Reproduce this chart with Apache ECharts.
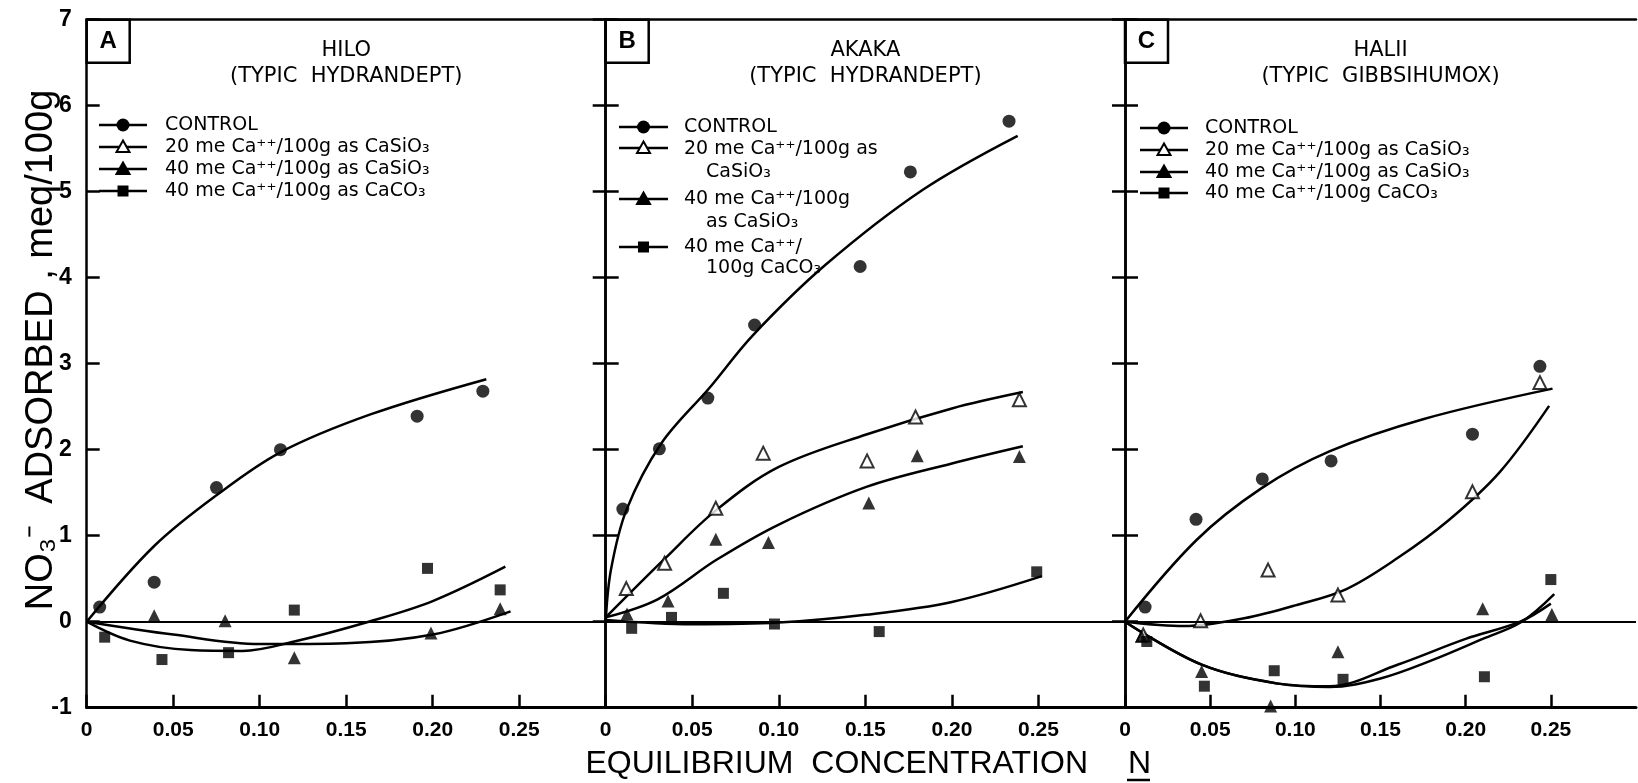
<!DOCTYPE html>
<html><head><meta charset="utf-8">
<script src="https://cdn.jsdelivr.net/npm/echarts@6/dist/echarts.min.js"></script>
<style>html,body{margin:0;padding:0;background:#fff}#c{width:1638px;height:783px}</style>
</head><body><div id="c"></div>
<script>
// ---------- data ----------
const xTickValues = [0, 0.05, 0.10, 0.15, 0.20, 0.25];
const yTickValues = [-1, 0, 1, 2, 3, 4, 5, 6, 7];
const panelLetters = ['A', 'B', 'C'];
const panelNames = ['HILO', 'AKAKA', 'HALII'];
const panelSubtitles = ['(TYPIC  HYDRANDEPT)', '(TYPIC  HYDRANDEPT)', '(TYPIC  GIBBSIHUMOX)'];
const legendLabelsA = [['CONTROL'], ['20 me Ca⁺⁺/100g as CaSiO₃'], ['40 me Ca⁺⁺/100g as CaSiO₃'], ['40 me Ca⁺⁺/100g as CaCO₃']];
const legendLabelsB = [['CONTROL'], ['20 me Ca⁺⁺/100g as', 'CaSiO₃'], ['40 me Ca⁺⁺/100g', 'as CaSiO₃'], ['40 me Ca⁺⁺/', '100g CaCO₃']];
const legendLabelsC = [['CONTROL'], ['20 me Ca⁺⁺/100g as CaSiO₃'], ['40 me Ca⁺⁺/100g as CaSiO₃'], ['40 me Ca⁺⁺/100g CaCO₃']];
const xTitle = 'EQUILIBRIUM  CONCENTRATION';
const xTitleUnit = 'N';
const yTitle = 'NO₃⁻  ADSORBED , meq/100g';

// Panel A (HILO)
const aControlPts = [[0.0075,0.17],[0.039,0.46],[0.075,1.56],[0.112,2.0],[0.191,2.39],[0.229,2.68]];
const aControlFit = [[0,0],[0.039,0.88],[0.075,1.47],[0.112,1.97],[0.164,2.41],[0.231,2.82]];
const aCaSi40Pts = [[0.039,0.07],[0.08,0.01],[0.12,-0.42],[0.199,-0.13],[0.239,0.15]];
const aCaSi40Fit = [[0,0],[0.05,-0.15],[0.1,-0.26],[0.15,-0.25],[0.2,-0.15],[0.245,0.12]];
const aCaCO3Pts = [[0.0104,-0.18],[0.0435,-0.44],[0.082,-0.36],[0.12,0.135],[0.197,0.62],[0.239,0.37]];
const aCaCO3Fit = [[0,0],[0.025,-0.22],[0.06,-0.33],[0.09,-0.34],[0.12,-0.23],[0.163,0],[0.2,0.24],[0.242,0.64]];

// Panel B (AKAKA)
const bControlPts = [[0.0099,1.31],[0.031,2.01],[0.059,2.6],[0.086,3.45],[0.147,4.13],[0.176,5.23],[0.233,5.82]];
const bControlFit = [[0,0],[0.003,0.6],[0.012,1.3],[0.032,2.07],[0.06,2.72],[0.085,3.33],[0.127,4.15],[0.183,5.02],[0.238,5.65]];
const bCaSi20Pts = [[0.0119,0.385],[0.034,0.68],[0.0636,1.32],[0.091,1.96],[0.151,1.87],[0.179,2.38],[0.239,2.58]];
const bCaSi20Fit = [[0,0.05],[0.034,0.73],[0.064,1.3],[0.1,1.8],[0.151,2.18],[0.2,2.48],[0.241,2.67]];
const bCaSi40Pts = [[0.0123,0.09],[0.036,0.24],[0.0636,0.96],[0.094,0.92],[0.152,1.38],[0.18,1.93],[0.239,1.92]];
const bCaSi40Fit = [[0,0.05],[0.03,0.26],[0.064,0.72],[0.1,1.13],[0.151,1.57],[0.2,1.84],[0.241,2.04]];
const bCaCO3Pts = [[0.015,-0.077],[0.038,0.05],[0.068,0.33],[0.0975,-0.027],[0.158,-0.115],[0.249,0.58]];
const bCaCO3Fit = [[0,0.02],[0.05,-0.03],[0.1,-0.01],[0.15,0.08],[0.2,0.23],[0.252,0.53]];

// Panel C (HALII)
const cControlPts = [[0.0118,0.17],[0.0417,1.19],[0.0806,1.66],[0.121,1.87],[0.204,2.18],[0.2436,2.97]];
const cControlFit = [[0,0],[0.042,0.95],[0.08,1.55],[0.12,1.98],[0.176,2.36],[0.251,2.71]];
const cCaSi20Pts = [[0.0107,-0.155],[0.0444,0.01],[0.084,0.6],[0.125,0.31],[0.204,1.51],[0.2436,2.78]];
const cCaSi20Fit = [[0,0],[0.035,-0.05],[0.07,0.04],[0.1,0.19],[0.13,0.38],[0.16,0.74],[0.19,1.18],[0.22,1.74],[0.249,2.51]];
const cCaSi40Pts = [[0.0096,-0.17],[0.045,-0.58],[0.0855,-0.98],[0.125,-0.35],[0.21,0.15],[0.2506,0.085]];
const cCaSi40Fit = [[0,0],[0.045,-0.5],[0.09,-0.72],[0.12,-0.75],[0.16,-0.5],[0.2,-0.2],[0.232,0],[0.25,0.21]];
const cCaCO3Pts = [[0.0128,-0.23],[0.0466,-0.75],[0.0876,-0.57],[0.128,-0.67],[0.211,-0.64],[0.25,0.49]];
const cCaCO3Fit = [[0,0],[0.045,-0.5],[0.09,-0.72],[0.12,-0.76],[0.15,-0.66],[0.18,-0.45],[0.21,-0.2],[0.233,0],[0.252,0.32]];

// ---------- layout ----------
const GRID_TOP = 19.7, GRID_H = 688;
const gridBoxes = [{left: 86.7, width: 519}, {left: 605.7, width: 519.3}, {left: 1125, width: 511}];
const legendLayouts = [
  {lx0: 99, lx1: 147, tx: 165, indent: 0, symY: [125, 147, 169, 191], textY: [[125], [147], [169], [191]], labels: legendLabelsA},
  {lx0: 619, lx1: 668, tx: 684, indent: 22, symY: [127, 148, 199, 247], textY: [[127], [149, 172], [199, 222], [247, 268]], labels: legendLabelsB},
  {lx0: 1140, lx1: 1188, tx: 1205, indent: 0, symY: [128, 150, 172, 193], textY: [[128], [150], [172], [193]], labels: legendLabelsC}
];
const kinds = ['control', 'si20', 'si40', 'co3'];

const panelSeries = [
  [{k: 'control', pts: aControlPts, fit: aControlFit}, {k: 'si40', pts: aCaSi40Pts, fit: aCaSi40Fit}, {k: 'co3', pts: aCaCO3Pts, fit: aCaCO3Fit}],
  [{k: 'control', pts: bControlPts, fit: bControlFit}, {k: 'si20', pts: bCaSi20Pts, fit: bCaSi20Fit}, {k: 'si40', pts: bCaSi40Pts, fit: bCaSi40Fit}, {k: 'co3', pts: bCaCO3Pts, fit: bCaCO3Fit}],
  [{k: 'control', pts: cControlPts, fit: cControlFit}, {k: 'si20', pts: cCaSi20Pts, fit: cCaSi20Fit}, {k: 'si40', pts: cCaSi40Pts, fit: cCaSi40Fit}, {k: 'co3', pts: cCaCO3Pts, fit: cCaCO3Fit}]
];
const symbolOf = {control: 'circle', si20: 'triangle', si40: 'triangle', co3: 'rect'};
const sizeOf = {control: 13, si20: 13, si40: 13, co3: 11};
function itemStyleOf(k) {
  return k === 'si20' ? {color: '#fff', borderColor: '#000', borderWidth: 2} : {color: '#000'};
}
const FONT = 'Liberation Sans';
const LFONT = 'DejaVu Sans';

const grids = [], xAxes = [], yAxes = [], series = [], graphics = [];
gridBoxes.forEach((g, i) => {
  grids.push({left: g.left, width: g.width, top: GRID_TOP, height: GRID_H, containLabel: false});
  xAxes.push({
    type: 'value', gridIndex: i, position: 'bottom', min: 0, max: 0.3, interval: 0.05,
    axisLine: {show: true, onZero: false, lineStyle: {color: '#000', width: 3}},
    axisTick: {show: true, inside: true, length: 13, lineStyle: {color: '#000', width: 2.5}},
    axisLabel: {show: true, color: '#000', fontFamily: FONT, fontWeight: 'bold', fontSize: 21, margin: 12,
      showMaxLabel: false,
      formatter: v => {
        const idx = xTickValues.findIndex(t => Math.abs(t - v) < 1e-6);
        if (idx < 0) return '';
        return xTickValues[idx] === 0 ? '0' : xTickValues[idx].toFixed(2);
      }},
    splitLine: {show: false}
  });
  xAxes.push({
    type: 'value', gridIndex: i, position: 'top', min: 0, max: 0.3, interval: 0.05,
    axisLine: {show: true, onZero: false, lineStyle: {color: '#000', width: 2.5}},
    axisTick: {show: false}, axisLabel: {show: false}, splitLine: {show: false}
  });
  yAxes.push({
    type: 'value', gridIndex: i, position: 'left', min: -1, max: 7, interval: 1,
    axisLine: {show: true, onZero: false, lineStyle: {color: '#000', width: 2.5}},
    axisTick: {show: true, inside: true, length: 13, lineStyle: {color: '#000', width: 2.5}},
    axisLabel: {show: i === 0, color: '#000', fontFamily: FONT, fontWeight: 'bold', fontSize: 23, margin: 15,
      formatter: v => yTickValues.includes(Math.round(v)) ? String(Math.round(v)) : ''},
    splitLine: {show: false}
  });
  yAxes.push({
    type: 'value', gridIndex: i, position: 'right', min: -1, max: 7, interval: 1,
    axisLine: {show: i < 2, onZero: false, lineStyle: {color: '#000', width: 2.5}},
    axisTick: {show: i < 2, inside: true, length: 13, lineStyle: {color: '#000', width: 2.5}},
    axisLabel: {show: false}, splitLine: {show: false}
  });

  panelSeries[i].forEach((s, j) => {
    const line = {
      type: 'line', xAxisIndex: 2 * i, yAxisIndex: 2 * i, data: s.fit,
      smooth: 0.35, symbol: 'none', showSymbol: false, silent: true,
      lineStyle: {color: '#000', width: 2.5}, z: 2, animation: false
    };
    if (j === 0) {
      line.markLine = {silent: true, symbol: 'none', animation: false, label: {show: false},
        lineStyle: {color: '#000', width: 2, type: 'solid'}, data: [{yAxis: 0}]};
    }
    series.push(line);
    series.push({
      type: 'scatter', xAxisIndex: 2 * i, yAxisIndex: 2 * i, data: s.pts,
      symbol: symbolOf[s.k], symbolSize: sizeOf[s.k], itemStyle: itemStyleOf(s.k),
      z: 3, animation: false, silent: true
    });
  });

  graphics.push({type: 'rect', shape: {x: g.left, y: GRID_TOP, width: 43, height: 43},
    style: {fill: 'none', stroke: '#000', lineWidth: 2.5}});
  graphics.push({type: 'text', x: g.left + 21.5, y: GRID_TOP + 22,
    style: {text: panelLetters[i], font: 'bold 24px "' + FONT + '"', fill: '#000', textAlign: 'center', textVerticalAlign: 'middle'}});
  const cx = g.left + g.width / 2;
  graphics.push({type: 'text', x: cx, y: 51,
    style: {text: panelNames[i], font: '21px "' + LFONT + '"', fill: '#000', textAlign: 'center', textVerticalAlign: 'middle'}});
  graphics.push({type: 'text', x: cx, y: 77,
    style: {text: panelSubtitles[i], font: '21px "' + LFONT + '"', fill: '#000', textAlign: 'center', textVerticalAlign: 'middle'}});

  const L = legendLayouts[i];
  kinds.forEach((k, r) => {
    const y = L.symY[r];
    graphics.push({type: 'line', shape: {x1: L.lx0, y1: y, x2: L.lx1, y2: y}, style: {stroke: '#000', lineWidth: 2.5}});
    const mx = (L.lx0 + L.lx1) / 2;
    if (k === 'control') {
      graphics.push({type: 'circle', shape: {cx: mx, cy: y, r: 6.5}, style: {fill: '#000'}});
    } else if (k === 'co3') {
      graphics.push({type: 'rect', shape: {x: mx - 5.5, y: y - 5.5, width: 11, height: 11}, style: {fill: '#000'}});
    } else {
      graphics.push({type: 'polygon', shape: {points: [[mx, y - 6.5], [mx + 6.5, y + 5], [mx - 6.5, y + 5]]},
        style: {fill: k === 'si20' ? '#fff' : '#000', stroke: '#000', lineWidth: 2}});
    }
    L.labels[r].forEach((t, q) => {
      graphics.push({type: 'text', x: L.tx + (q > 0 ? L.indent : 0), y: L.textY[r][q],
        style: {text: t, font: '19px "' + LFONT + '"', fill: '#000', textAlign: 'left', textVerticalAlign: 'middle'}});
    });
  });
});

graphics.push({type: 'text', x: 42, y: 350, rotation: Math.PI / 2,
  style: {text: yTitle, font: '38px "' + FONT + '"', fill: '#000', textAlign: 'center', textVerticalAlign: 'middle'}});
graphics.push({type: 'text', x: 1088, y: 764,
  style: {text: xTitle, font: '32px "' + FONT + '"', fill: '#000', textAlign: 'right', textVerticalAlign: 'middle'}});
graphics.push({type: 'text', x: 1128, y: 764,
  style: {text: xTitleUnit, font: '32px "' + FONT + '"', fill: '#000', textAlign: 'left', textVerticalAlign: 'middle'}});
graphics.push({type: 'line', shape: {x1: 1127, y1: 780, x2: 1150, y2: 780}, style: {stroke: '#000', lineWidth: 2.5}});

const chart = echarts.init(document.getElementById('c'), null, {renderer: 'canvas'});
chart.setOption({
  animation: false,
  backgroundColor: '#fff',
  grid: grids, xAxis: xAxes, yAxis: yAxes, series: series, graphic: graphics
});
</script></body></html>
